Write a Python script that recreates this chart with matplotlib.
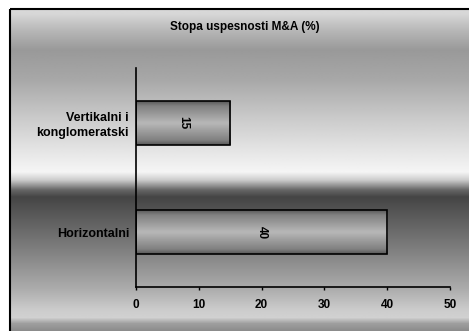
import numpy as np
import matplotlib.pyplot as plt
from matplotlib.patches import Rectangle

# data
categories = ['Horizontalni', 'Vertikalni i\nkonglomeratski']
values = [40, 15]
xticks = [0, 10, 20, 30, 40, 50]
title = 'Stopa uspesnosti M&A (%)'

W, H = 469, 331
fig = plt.figure(figsize=(W / 100, H / 100), dpi=100)
fig.patch.set_facecolor('white')

# background panel with vertical gray gradient (pixel rows from top)
bg = fig.add_axes([0, 0, 1, 1], zorder=0)
bg.set_xlim(0, W)
bg.set_ylim(H, 0)
bg.axis('off')
stops_y = [9, 14, 30, 50, 80, 120, 158, 172, 180, 190, 197, 215, 250, 290, 310, 318, 324, 331]
stops_g = [0.85, 0.84, 0.72, 0.6, 0.66, 0.8, 0.92, 0.96, 0.8, 0.4, 0.27, 0.35, 0.5, 0.68, 0.8, 0.82, 0.62, 0.55]
rows = np.arange(9, H + 1)
grad = np.interp(rows, stops_y, stops_g)
bg.imshow(grad[:, None], cmap='gray', vmin=0, vmax=1, aspect='auto',
          extent=(10, W, H, 9), interpolation='bilinear')
bg.add_patch(Rectangle((10, 9), W, H, fill=False, edgecolor='black', linewidth=1.5))
bg.text(245, 27, title, ha='center', va='center', fontsize=8.5, fontweight='bold',
        family='Liberation Sans')

ax = fig.add_axes([136 / W, 1 - 287 / H, 314 / W, 219 / H], zorder=1)
ax.patch.set_alpha(0)
ypos = np.arange(len(categories))
bars = ax.barh(ypos, values, height=0.4, facecolor='none', edgecolor='black',
               linewidth=1.2, zorder=3)

# gradient fill on bars
bar_grad = np.interp(np.linspace(0, 1, 50), [0, 0.1, 0.5, 0.9, 1], [0.35, 0.5, 0.72, 0.5, 0.35])
for b, v in zip(bars, values):
    x0, y0, bw, bh = b.get_x(), b.get_y(), b.get_width(), b.get_height()
    ax.imshow(bar_grad[:, None], cmap='gray', vmin=0, vmax=1, aspect='auto',
              extent=(x0, x0 + bw, y0, y0 + bh), interpolation='bilinear', zorder=2)
    ax.text(x0 + bw / 2, y0 + bh / 2, str(v), rotation=-90, ha='center', va='center',
            fontsize=8.5, fontweight='bold', family='Liberation Sans', zorder=4)

ax.set_xlim(0, 50)
ax.set_ylim(-0.5, 1.5)
ax.set_xticks(xticks)
ax.set_yticks(ypos)
ax.set_yticklabels(categories, fontsize=9, fontweight='bold', family='Liberation Sans',
                   linespacing=1.3)
ax.set_xticklabels([str(t) for t in xticks], fontsize=8.5, fontweight='bold',
                   family='Liberation Sans')
ax.tick_params(axis='x', length=2.5, width=1, pad=6)
ax.tick_params(axis='y', length=0, pad=5)
for s in ['top', 'right']:
    ax.spines[s].set_visible(False)
for s in ['left', 'bottom']:
    ax.spines[s].set_linewidth(1.2)
    ax.spines[s].set_color('black')

fig.savefig('out.png', dpi=100)
